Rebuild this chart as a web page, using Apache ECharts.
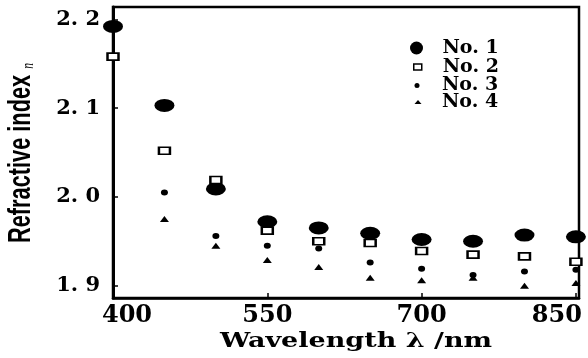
<!DOCTYPE html>
<html><head><meta charset="utf-8">
<script src="https://cdn.jsdelivr.net/npm/echarts@6/dist/echarts.min.js"></script>
<style>html,body{margin:0;padding:0;background:#fff}#c{width:588px;height:358px}</style>
</head><body><div id="c"></div>
<script>
// ---- data ----
const wavelengths = [400, 450, 500, 550, 600, 650, 700, 750, 800, 850];
const no1 = [2.192, 2.103, 2.009, 1.972, 1.965, 1.959, 1.952, 1.950, 1.957, 1.955];
const no2 = [2.158, 2.052, 2.019, 1.962, 1.950, 1.948, 1.939, 1.935, 1.933, 1.927];
const no3 = [null, 2.005, 1.956, 1.945, 1.942, 1.926, 1.919, 1.912, 1.916, 1.918];
const no4 = [null, 1.975, 1.945, 1.929, 1.921, 1.909, 1.906, 1.909, 1.900, 1.903];
const seriesNames = ['No. 1', 'No. 2', 'No. 3', 'No. 4'];
const xTicks = [400, 550, 700, 850];
const xTickLabels = ['400', '550', '700', '850'];
const yTicks = [1.9, 2.0, 2.1, 2.2];
const yTickLabels = ['1. 9', '2. 0', '2. 1', '2. 2'];
const xTitle = 'Wavelength λ /nm';
const yTitle = 'Refractive index ';
const yTitleSymbol = 'n';

// ---- chart ----
const serif = "'DejaVu Serif', 'Liberation Serif', serif";
const chart = echarts.init(document.getElementById('c'), null, {renderer: 'canvas'});
function pairs(arr) { return wavelengths.map((w, i) => [w, arr[i]]).filter(p => p[1] != null); }

const marks = [
  {data: no1, symbol: 'circle', size: [20, 13], style: {color: '#000', opacity: 1}},
  {data: no2, symbol: 'rect', size: [11, 7], style: {color: '#fff', borderColor: '#000', borderWidth: 2, opacity: 1}},
  {data: no3, symbol: 'circle', size: [7, 6], style: {color: '#000', opacity: 1}},
  {data: no4, symbol: 'triangle', size: [9, 6], style: {color: '#000', opacity: 1}}
];
const legendLook = [
  {icon: 'circle', w: 20, h: 13, cx: 420, cy: 48.5, dx: 4, style: {color: '#000', borderWidth: 0, opacity: 1}},
  {icon: 'rect', w: 8, h: 6, cx: 417, cy: 67.5, dx: 0, style: {color: '#fff', borderColor: '#000', borderWidth: 1.5, opacity: 1}},
  {icon: 'circle', w: 5, h: 5, cx: 417, cy: 86, dx: 0, style: {color: '#000', borderWidth: 0, opacity: 1}},
  {icon: 'triangle', w: 7, h: 4, cx: 418, cy: 102.5, dx: 0, style: {color: '#000', borderWidth: 0, opacity: 1}}
];
const textLeft = 442;

const option = {
  backgroundColor: '#fff',
  animation: false,
  grid: {left: 113, right: 9, top: 7, bottom: 60, show: true, borderColor: '#000', borderWidth: 2.5,
         containLabel: false, outerBoundsMode: 'none'},
  legend: legendLook.map((L, i) => {
    const left = L.cx - L.w / 2;
    return {
      orient: 'vertical', left: left, top: L.cy - 10, padding: 0, selectedMode: false,
      itemWidth: L.w, itemHeight: L.h,
      data: [{name: seriesNames[i], icon: L.icon, itemStyle: L.style}],
      textStyle: {fontFamily: serif, fontWeight: 'bold', fontSize: 19, color: '#000',
                  padding: [0, 0, 0, Math.max(0, textLeft - (left + L.w + 5)) + L.dx]}
    };
  }),
  graphic: [
    {
      type: 'text', x: 356, y: 342, scaleX: 1.35, silent: true,
      style: {text: xTitle, font: "bold 20px 'DejaVu Serif', serif", fill: '#000',
              textAlign: 'center', textVerticalAlign: 'middle'}
    },
    {
      type: 'text', x: 21, y: 153, rotation: Math.PI / 2, scaleX: 0.68, silent: true,
      style: {
        text: yTitle + '{i|' + yTitleSymbol + '}',
        font: "bold 32px 'Liberation Sans', Arial, sans-serif", fill: '#000',
        textAlign: 'center', textVerticalAlign: 'middle',
        rich: {i: {font: "italic 17px 'Liberation Serif', serif", fill: '#000', verticalAlign: 'bottom'}}
      }
    }
  ],
  xAxis: {
    type: 'value', min: 400, max: 853,
    axisLine: {lineStyle: {color: '#000', width: 2.5}},
    axisTick: {inside: true, length: 5, customValues: xTicks, lineStyle: {color: '#000', width: 1.5}},
    splitLine: {show: false},
    axisLabel: {
      customValues: xTicks, margin: 6, color: '#000', fontFamily: serif, fontWeight: 'bold', fontSize: 24,
      formatter: v => {
        const i = xTicks.indexOf(v);
        const t = xTickLabels[i];
        if (i === 0) return '{l|' + t + '}';
        if (i === xTicks.length - 1) return '{r|' + t + '}';
        return t;
      },
      rich: {
        l: {padding: [0, 0, 0, 28], fontFamily: serif, fontWeight: 'bold', fontSize: 24, color: '#000'},
        r: {padding: [0, 38, 0, 0], fontFamily: serif, fontWeight: 'bold', fontSize: 24, color: '#000'}
      }
    }
  },
  yAxis: {
    type: 'value', min: 1.8861, max: 2.2139,
    axisLine: {lineStyle: {color: '#000', width: 3}},
    axisTick: {inside: true, length: 5, customValues: yTicks, lineStyle: {color: '#000', width: 1.5}},
    splitLine: {show: false},
    axisLabel: {
      customValues: yTicks, margin: 13, color: '#000', fontFamily: serif, fontWeight: 'bold', fontSize: 21,
      formatter: v => yTickLabels[yTicks.findIndex(t => Math.abs(t - v) < 1e-6)]
    }
  },
  series: marks.map((m, i) => ({
    type: 'scatter', name: seriesNames[i], data: pairs(m.data),
    symbol: m.symbol, symbolSize: m.size, itemStyle: m.style, z: 2 + i,
    emphasis: {disabled: true}
  }))
};
chart.setOption(option);
</script>
</body></html>
